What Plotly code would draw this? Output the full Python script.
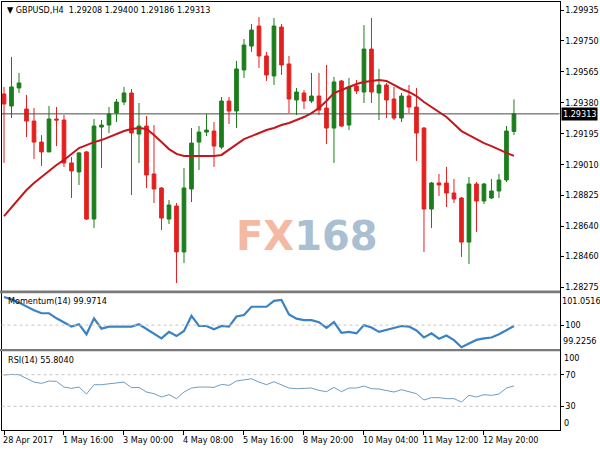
import plotly.graph_objects as go

# ---------------- data ----------------
tick_bars = [0, 8, 16, 24, 32, 40, 48, 56, 64]
tick_labels = ["28 Apr 2017", "1 May 16:00", "3 May 00:00", "4 May 08:00", "5 May 16:00",
               "8 May 20:00", "10 May 04:00", "11 May 12:00", "12 May 20:00"]

opens = [1.29432, 1.29360, 1.29468, 1.29342, 1.29270, 1.29144, 1.29085, 1.29282, 1.29276, 1.29019,
         1.28965, 1.29085, 1.28683, 1.29234, 1.29246, 1.29318, 1.29384, 1.29438, 1.29192, 1.29240,
         1.28953, 1.28869, 1.28683, 1.28761, 1.28486, 1.28863, 1.29144, 1.29204, 1.29210, 1.29114,
         1.29390, 1.29330, 1.29576, 1.29719, 1.29839, 1.29660, 1.29540, 1.29833, 1.29612, 1.29396,
         1.29438, 1.29390, 1.29420, 1.29348, 1.29228, 1.29510, 1.29246, 1.29480, 1.29444, 1.29701,
         1.29438, 1.29486, 1.29402, 1.29288, 1.29420, 1.29354, 1.29228, 1.28743, 1.28899, 1.28899,
         1.28839, 1.28809, 1.28545, 1.28893, 1.28791, 1.28809, 1.28851, 1.28917, 1.29208]
highs = [1.29474, 1.29654, 1.29558, 1.29426, 1.29348, 1.29186, 1.29360, 1.29354, 1.29306, 1.29055,
         1.29085, 1.29091, 1.29282, 1.29276, 1.29354, 1.29402, 1.29474, 1.29462, 1.29378, 1.29300,
         1.29246, 1.28875, 1.28797, 1.28779, 1.28989, 1.29228, 1.29240, 1.29312, 1.29264, 1.29414,
         1.29414, 1.29630, 1.29761, 1.29851, 1.29893, 1.29684, 1.29887, 1.29851, 1.29660, 1.29468,
         1.29456, 1.29558, 1.29558, 1.29606, 1.29534, 1.29516, 1.29528, 1.29516, 1.29845, 1.29887,
         1.29582, 1.29498, 1.29474, 1.29438, 1.29486, 1.29468, 1.29234, 1.28905, 1.28953, 1.28995,
         1.28923, 1.28815, 1.28935, 1.28905, 1.28899, 1.28923, 1.28953, 1.29240, 1.29400]
lows = [1.29019, 1.29288, 1.29438, 1.29174, 1.29043, 1.29001, 1.29085, 1.29120, 1.28995, 1.28809,
        1.28887, 1.28677, 1.28629, 1.28989, 1.29198, 1.29264, 1.29366, 1.28827, 1.29019, 1.28869,
        1.28779, 1.28617, 1.28653, 1.28300, 1.28420, 1.28785, 1.28977, 1.29180, 1.28995, 1.29102,
        1.29252, 1.29228, 1.29528, 1.29684, 1.29588, 1.29510, 1.29486, 1.29546, 1.29318, 1.29306,
        1.29342, 1.29378, 1.29306, 1.29132, 1.29019, 1.29234, 1.29216, 1.29432, 1.29378, 1.29378,
        1.29276, 1.29288, 1.29276, 1.29264, 1.29318, 1.29031, 1.28486, 1.28629, 1.28821, 1.28755,
        1.28779, 1.28456, 1.28414, 1.28605, 1.28773, 1.28803, 1.28809, 1.28905, 1.29186]
closes = [1.29372, 1.29474, 1.29498, 1.29270, 1.29144, 1.29085, 1.29282, 1.29276, 1.29019, 1.28971,
          1.29079, 1.28683, 1.29240, 1.29246, 1.29312, 1.29384, 1.29438, 1.29198, 1.29240, 1.28947,
          1.28863, 1.28689, 1.28767, 1.28486, 1.28869, 1.29138, 1.29204, 1.29216, 1.29120, 1.29390,
          1.29330, 1.29582, 1.29725, 1.29815, 1.29660, 1.29546, 1.29839, 1.29606, 1.29402, 1.29444,
          1.29390, 1.29420, 1.29336, 1.29228, 1.29504, 1.29240, 1.29474, 1.29450, 1.29701, 1.29444,
          1.29486, 1.29396, 1.29288, 1.29420, 1.29354, 1.29198, 1.28743, 1.28899, 1.28887, 1.28839,
          1.28803, 1.28545, 1.28893, 1.28791, 1.28893, 1.28851, 1.28917, 1.29210, 1.29313]
ma = [1.28701, 1.28755, 1.28809, 1.28857, 1.28899, 1.28935, 1.28971, 1.29007, 1.29037, 1.29073,
      1.29108, 1.29126, 1.29144, 1.29156, 1.29174, 1.29192, 1.29210, 1.29222, 1.29228, 1.29222,
      1.29186, 1.29144, 1.29102, 1.29073, 1.29061, 1.29061, 1.29061, 1.29061, 1.29061, 1.29067,
      1.29097, 1.29132, 1.29162, 1.29180, 1.29198, 1.29216, 1.29228, 1.29246, 1.29258, 1.29276,
      1.29294, 1.29318, 1.29348, 1.29390, 1.29438, 1.29456, 1.29474, 1.29492, 1.29504, 1.29510,
      1.29516, 1.29510, 1.29486, 1.29462, 1.29444, 1.29420, 1.29384, 1.29354, 1.29324, 1.29294,
      1.29252, 1.29210, 1.29186, 1.29162, 1.29138, 1.29120, 1.29097, 1.29079, 1.29061]
momentum = [100.95, 100.87, 100.76, 100.62, 100.50, 100.40, 100.40, 100.23, 100.10, 99.95,
            100.03, 99.69, 100.23, 99.88, 99.95, 99.95, 99.95, 99.95, 100.03, 99.86,
            99.69, 99.55, 99.77, 99.63, 99.80, 100.31, 99.97, 99.97, 99.86, 99.97,
            99.95, 100.29, 100.34, 100.62, 100.62, 100.62, 100.82, 100.85, 100.36, 100.22,
            100.17, 100.17, 100.10, 99.91, 100.10, 99.74, 99.77, 99.72, 100.00, 99.92,
            99.77, 99.83, 99.89, 99.97, 99.95, 99.82, 99.58, 99.72, 99.54, 99.65,
            99.49, 99.25, 99.38, 99.50, 99.55, 99.58, 99.69, 99.83, 99.9714]
rsi = [69.53, 70.38, 69.96, 64.91, 60.69, 59.02, 61.96, 61.54, 54.38, 52.70,
       54.38, 45.54, 57.34, 57.34, 58.17, 59.02, 60.69, 53.55, 53.96, 48.07,
       45.97, 41.76, 44.71, 39.66, 48.07, 53.12, 54.38, 54.38, 53.96, 57.75,
       56.49, 61.96, 63.65, 64.91, 60.69, 57.34, 61.12, 57.34, 53.12, 52.29,
       52.29, 53.12, 50.18, 48.50, 53.96, 48.50, 53.12, 53.12, 55.64, 52.29,
       51.86, 50.18, 48.07, 51.02, 48.91, 45.97, 37.97, 40.92, 40.92, 39.66,
       39.66, 35.44, 43.86, 41.76, 44.71, 43.86, 45.54, 53.12, 55.804]
price_ticks = [1.29935, 1.29750, 1.29565, 1.29380, 1.29195, 1.29010, 1.28825, 1.28640, 1.28460, 1.28275]
mom_min, mom_max = 99.2256, 101.0516
rsi_levels = [70, 30]

idx = list(range(len(closes)))

# ---------------- styling ----------------
FONT = "DejaVu Sans Condensed, Liberation Sans, Arial, sans-serif"
FS = 9
GREEN = "#1b7d1b"
RED = "#e4201e"
W, H = 600, 450


def px_y(p):
    return 1 - p / H


x_dom = [1.5 / W, 559.5 / W]
main_dom = [px_y(291), px_y(2)]
mom_dom = [px_y(349), px_y(293.3)]
rsi_dom = [px_y(430), px_y(351)]
x_range = [-0.333, 74.07]

fig = go.Figure()
fig.add_trace(go.Candlestick(
    x=idx, open=opens, high=highs, low=lows, close=closes,
    increasing=dict(line=dict(color=GREEN, width=1), fillcolor=GREEN),
    decreasing=dict(line=dict(color=RED, width=1), fillcolor=RED),
    whiskerwidth=0, xaxis="x", yaxis="y", hoverinfo="skip"))
fig.add_trace(go.Scatter(x=idx, y=ma, mode="lines", line=dict(color="#c4161c", width=2),
                         xaxis="x", yaxis="y", hoverinfo="skip"))
fig.add_trace(go.Scatter(x=idx, y=momentum, mode="lines", line=dict(color="#3a82c4", width=2.2),
                         xaxis="x2", yaxis="y2", hoverinfo="skip"))
fig.add_trace(go.Scatter(x=idx, y=rsi, mode="lines", line=dict(color="#6f9cc0", width=1),
                         xaxis="x3", yaxis="y3", hoverinfo="skip"))

axis_common = dict(showgrid=False, zeroline=False, showline=True, mirror=True,
                   linecolor="black", linewidth=1)
tfont = dict(family=FONT, size=FS, color="black")

fig.update_layout(
    width=W, height=H, margin=dict(l=0, r=0, t=0, b=0),
    paper_bgcolor="white", plot_bgcolor="white", showlegend=False,
    font=dict(family=FONT, size=FS, color="black"),
    xaxis=dict(domain=x_dom, range=x_range, anchor="y", showticklabels=False, ticks="",
               rangeslider=dict(visible=False), **axis_common),
    yaxis=dict(domain=main_dom, range=[1.28252, 1.29983], anchor="x", side="right",
               tickvals=price_ticks, ticktext=[f"{v:.5f}" for v in price_ticks],
               ticks="outside", ticklen=3, tickcolor="black", tickfont=tfont, **axis_common),
    xaxis2=dict(domain=x_dom, range=x_range, anchor="y2", matches="x",
                showticklabels=False, ticks="", **axis_common),
    yaxis2=dict(domain=mom_dom, range=[99.192, 101.075], anchor="x2", side="right",
                tickvals=[100], ticktext=["100"], ticks="outside", ticklen=3, tickcolor="black",
                tickfont=tfont, **axis_common),
    xaxis3=dict(domain=x_dom, range=x_range, anchor="y3", matches="x",
                tickvals=tick_bars, ticktext=[""] * len(tick_bars), ticks="outside",
                ticklen=4, tickcolor="black", **axis_common),
    yaxis3=dict(domain=rsi_dom, range=[0, 100], anchor="x3", side="right",
                tickvals=rsi_levels, ticktext=[str(v) for v in rsi_levels],
                ticks="outside", ticklen=3, tickcolor="black", tickfont=tfont, **axis_common),
)

shapes = []
# panel separators
for top, bot in [(290.6, 293.3), (349, 351.2)]:
    shapes.append(dict(type="rect", xref="paper", yref="paper", x0=0, x1=560 / W,
                       y0=px_y(bot), y1=px_y(top), fillcolor="#7a7a7a", line=dict(width=0),
                       layer="above"))
# current price line
shapes.append(dict(type="line", xref="x domain", yref="y", x0=0, x1=1,
                   y0=closes[-1], y1=closes[-1], line=dict(color="#4a4a4a", width=1)))
# indicator levels
shapes.append(dict(type="line", xref="x2 domain", yref="y2", x0=0, x1=1, y0=100, y1=100,
                   line=dict(color="#d6c2b8", width=1, dash="3px,3px")))
for lv in rsi_levels:
    shapes.append(dict(type="line", xref="x3 domain", yref="y3", x0=0, x1=1, y0=lv, y1=lv,
                       line=dict(color="#c4c4c4", width=1, dash="3px,3px")))
fig.update_layout(shapes=shapes)

ann = []
title = (f"\u25bc GBPUSD,H4  {opens[-1]:.5f} {highs[-1]:.5f} "
         f"{lows[-1]:.5f} {closes[-1]:.5f}")
ann.append(dict(text=title, xref="paper", yref="paper", x=5 / W, y=px_y(10), xanchor="left",
                yanchor="middle", showarrow=False, font=tfont))
ann.append(dict(text=f"Momentum(14) {momentum[-1]:.4f}", xref="paper", yref="paper",
                x=6 / W, y=px_y(301), xanchor="left", yanchor="middle", showarrow=False,
                font=tfont))
ann.append(dict(text=f"RSI(14) {rsi[-1]:.4f}", xref="paper", yref="paper",
                x=6 / W, y=px_y(360), xanchor="left", yanchor="middle", showarrow=False,
                font=tfont))
# current price tag
ann.append(dict(text=f"{closes[-1]:.5f}", xref="paper", yref="y", x=561 / W, y=closes[-1],
                xanchor="left", yanchor="middle", showarrow=False, bgcolor="black",
                borderpad=1, font=dict(family=FONT, size=FS, color="white")))
# indicator edge labels (drawn inside their panels as in the terminal)
ann.append(dict(text=f"{mom_max:.4f}", xref="paper", yref="y2", x=559.5 / W, y=mom_max,
                xanchor="left", yanchor="top", showarrow=False, font=tfont))
ann.append(dict(text=f"{mom_min:.4f}", xref="paper", yref="y2", x=561 / W, y=mom_min,
                xanchor="left", yanchor="bottom", showarrow=False, font=tfont))
ann.append(dict(text="100", xref="paper", yref="y3", x=562 / W, y=100,
                xanchor="left", yanchor="top", showarrow=False, font=tfont))
ann.append(dict(text="0", xref="paper", yref="y3", x=562 / W, y=0,
                xanchor="left", yanchor="bottom", showarrow=False, font=tfont))
# time labels, left-aligned at their bars
for b, lab in zip(tick_bars, tick_labels):
    ann.append(dict(text=lab, xref="x3", yref="paper", x=b, y=px_y(433), xanchor="left",
                    yanchor="top", xshift=-3, showarrow=False, font=tfont))
# watermark
ann.append(dict(text="<b><span style='color:#f3b29a'>FX</span><span style='color:#a3b9cf'>168</span></b>",
                xref="paper", yref="paper", x=307 / W, y=px_y(236), xanchor="center",
                yanchor="middle", showarrow=False, opacity=0.9,
                font=dict(family="DejaVu Sans", size=40)))
fig.update_layout(annotations=ann)

fig.write_html("out.html", config={"displayModeBar": False, "staticPlot": True},
               post_script="document.body.style.margin='0px';document.body.style.overflow='hidden';")
